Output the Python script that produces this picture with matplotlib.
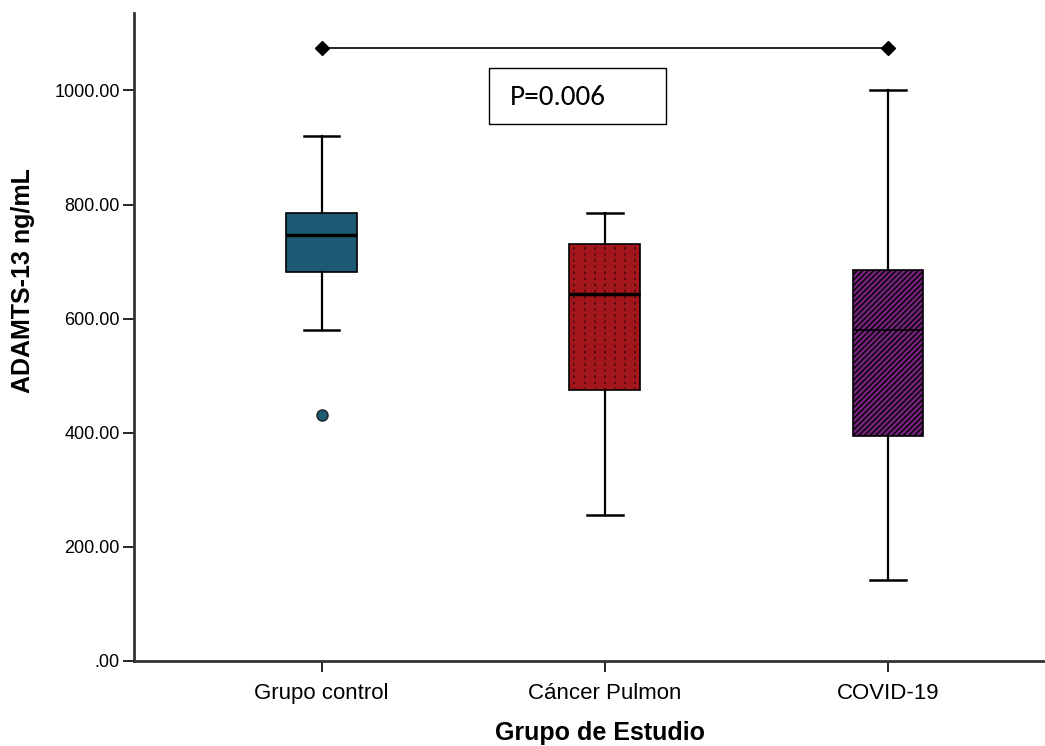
import matplotlib
matplotlib.use("Agg")
import matplotlib.pyplot as plt
from matplotlib.patches import Rectangle

# Data (ng/mL)
groups = ["Grupo control", "Cáncer Pulmon", "COVID-19"]
whislo = [580, 256, 142]
q1 = [681, 475, 394]
med = [746, 643, 580]
q3 = [785, 730, 685]
whishi = [921, 786, 1000]
outliers = [[431], [], []]

colors = ["#1c5a73", "#a3161c", "#73217a"]
yticks = [0, 200, 400, 600, 800, 1000]
ytick_labels = [".00", "200.00", "400.00", "600.00", "800.00", "1000.00"]
bracket_y = 1075
p_text = "P=0.006"

fig = plt.figure(figsize=(10.45, 7.46), dpi=100)
ax = fig.add_axes([0.128, 0.114, 0.872, 0.868])

stats = []
for i, g in enumerate(groups):
    stats.append(dict(label=g, whislo=whislo[i], q1=q1[i], med=med[i],
                      q3=q3[i], whishi=whishi[i], fliers=outliers[i]))

pos = [1, 2, 3]
bp = ax.bxp(stats, positions=pos, widths=0.25, patch_artist=True,
            showfliers=True, capwidths=0.125,
            boxprops=dict(linewidth=1.2, edgecolor="black"),
            medianprops=dict(color="black", linewidth=2.5),
            whiskerprops=dict(color="black", linewidth=1.6),
            capprops=dict(color="black", linewidth=1.8),
            flierprops=dict(marker="o", markerfacecolor=colors[0],
                            markeredgecolor="#222222", markersize=8))

for patch, c in zip(bp["boxes"], colors):
    patch.set_facecolor(c)

# diagonal hatch on COVID box
bp["boxes"][2].set_hatch("//////")
bp["boxes"][2].set_edgecolor("black")
bp["medians"][2].set_linewidth(1.2)

# dotted vertical lines inside cancer box
n_lines = 7
for k in range(n_lines):
    xx = 2 - 0.125 + 0.25 * (k + 0.5) / n_lines
    ax.plot([xx, xx], [q1[1], q3[1]], color="#3a0a0a",
            linestyle=(0, (1.5, 2.5)), linewidth=1.1, zorder=2.5)

# significance bracket
ax.plot([pos[0], pos[2]], [bracket_y, bracket_y], color="black", linewidth=1.2,
        marker="D", markersize=7, clip_on=False)
ax.add_patch(Rectangle((1.59, 942), 0.626, 98, facecolor="white",
                       edgecolor="black", linewidth=1.0))
ax.text(1.665, 988, p_text, fontsize=21, va="center", ha="left",
        family=["Carlito", "Open Sans", "DejaVu Sans"])

ax.set_xlim(0.336, 3.555)
ax.set_ylim(0, 1135)
ax.set_xticks(pos)
ax.set_xticklabels(groups, fontsize=16, family="Liberation Sans")
ax.set_yticks(yticks)
ax.set_yticklabels(ytick_labels, fontsize=13, family="Liberation Sans")
ax.tick_params(axis="both", direction="out", length=8, width=1.2, pad=2)
ax.tick_params(axis="x", pad=8)

for s in ["top", "right"]:
    ax.spines[s].set_visible(False)
for s in ["left", "bottom"]:
    ax.spines[s].set_linewidth(2)
    ax.spines[s].set_color("#333333")

ax.set_ylabel("ADAMTS-13 ng/mL", fontsize=18, fontweight="bold",
              family="Liberation Sans", va="center")
ax.yaxis.set_label_coords(-0.122, 0.587)
ax.set_xlabel("Grupo de Estudio", fontsize=18, fontweight="bold",
              family="Liberation Sans", va="center")
ax.xaxis.set_label_coords(0.5115, -0.111)

fig.savefig("out.png", dpi=100, facecolor="white")
